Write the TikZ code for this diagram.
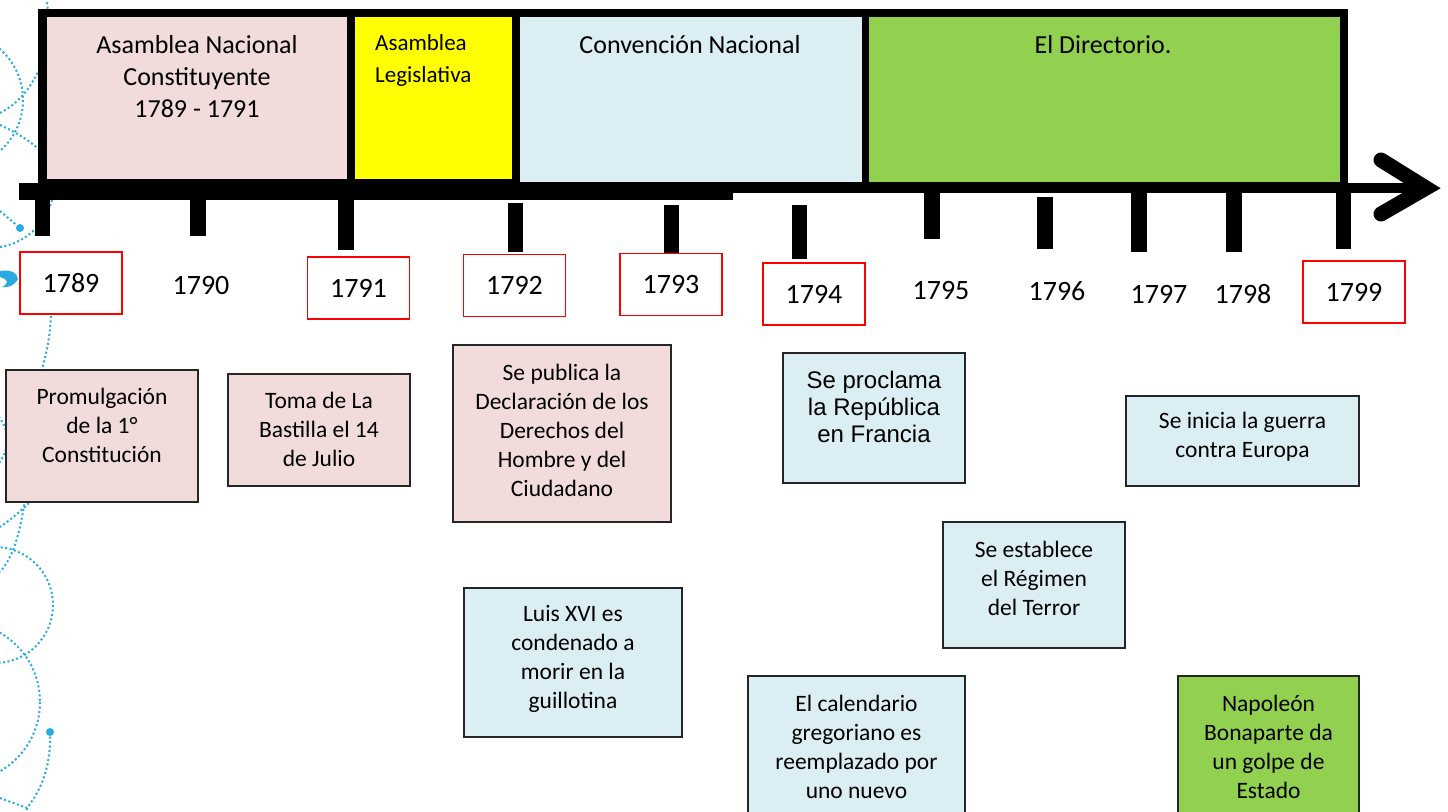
\documentclass[tikz,border=0pt]{standalone}
\usepackage{fontspec}
\setmainfont{Carlito}
\newfontfamily\arialf{Liberation Sans}
\definecolor{pinkc}{HTML}{F2DCDB}
\definecolor{bluec}{HTML}{DBEEF4}
\definecolor{yelc}{HTML}{FFFF00}
\definecolor{greenc}{HTML}{92D050}
\definecolor{decocyan}{RGB}{41,171,226}
\definecolor{boxline}{HTML}{262626}
\tikzset{
  evbox/.style={draw=boxline, line width=1.2pt, inner sep=0pt},
  yearbox/.style={draw=red, line width=1.3pt, fill=white, minimum width=102pt, minimum height=62pt, inner sep=0pt, font=\fontsize{28}{30}\selectfont},
  yeartxt/.style={inner sep=0pt, font=\fontsize{28}{30}\selectfont},
  evtxt/.style={align=center, inner sep=0pt, font=\fontsize{23.5}{29}\selectfont},
  headtxt/.style={align=center, inner sep=0pt, font=\fontsize{26}{32}\selectfont},
  deco/.style={draw=decocyan, line width=2pt, dash pattern=on 2pt off 2.5pt},
  tickbar/.style={fill=black}
}
\begin{document}
\begin{tikzpicture}[x=1pt,y=-1pt]
\useasboundingbox (0,0) rectangle (1448,811);
\clip (0,0) rectangle (1448,811);
% decoration at left edge
\draw[deco] (-45,100) circle[radius=68];
\draw[deco] (0,113) .. controls (35,95) and (55,50) .. (46,-5);
\draw[deco] (0,125) .. controls (15,132) and (30,140) .. (45,155);
\draw[deco] (0,211) -- (20,228);
\fill[decocyan] (20,228) circle[radius=4];
\draw[deco] (0,247) .. controls (25,243) and (45,225) .. (52,200);
\fill[decocyan] (0,271) .. controls (10,269) and (18,273) .. (18,279) .. controls (14,286) and (8,288) .. (2,287) .. controls (8,284) and (10,280) .. (0,277) -- cycle;
\draw[deco] (51,316) .. controls (50,335) and (47,355) .. (40,375);
\draw[deco] (-30,440) circle[radius=37];
\draw[deco] (32,500) .. controls (20,512) and (10,520) .. (0,527);
\draw[deco] (25,500) .. controls (20,530) and (15,555) .. (0,572);
\draw[deco] (-5,605) circle[radius=58];
\draw[deco] (-40,702) circle[radius=80];
\draw[deco] (50,732) .. controls (51,760) and (45,785) .. (27,808) -- (27,815);
\draw[deco] (0,798) -- (27,808);
\fill[decocyan] (50,732) circle[radius=4];
% frame and period boxes
\fill[black] (38,9) rectangle (1348,193);
\fill[pinkc] (47,17) rectangle (347,179);
\fill[yelc] (355,17) rectangle (512,179);
\fill[bluec] (520,17) rectangle (862,182);
\fill[greenc] (869,17) rectangle (1340,182);
\node[headtxt] (h1) at (197,77) {Asamblea Nacional\\Constituyente\\1789 - 1791};
\node[align=left, anchor=west, inner sep=0pt, font=\fontsize{23}{32}\selectfont] (h2) at (375,60) {Asamblea\\Legislativa};
\node[headtxt] (h3) at (690,45) {Convención Nacional};
\node[headtxt] (h4) at (1103,45) {El Directorio.};
% axis
\fill[black] (19,183) rectangle (733,200);
\fill[black] (733,183) rectangle (1427,193);
\draw[line width=15pt, line cap=round, line join=miter] (1381,160) -- (1426,188) -- (1381,214);
% ticks
\fill[tickbar] (35,200) rectangle (50,236);
\fill[tickbar] (190,200) rectangle (206,236);
\fill[tickbar] (338,200) rectangle (354,250);
\fill[tickbar] (508,203) rectangle (523,252);
\fill[tickbar] (664,205) rectangle (679,253);
\fill[tickbar] (792,205) rectangle (807,259);
\fill[tickbar] (924,193) rectangle (940,239);
\fill[tickbar] (1037,197) rectangle (1053,249);
\fill[tickbar] (1131,193) rectangle (1147,252);
\fill[tickbar] (1226,193) rectangle (1242,252);
\fill[tickbar] (1336,193) rectangle (1351,249);
% years
\node[yearbox] (y1789) at (71,283) {1789};
\node[yeartxt] (y1790) at (201,286) {1790};
\node[yearbox] (y1791) at (358.5,288) {1791};
\node[yearbox] (y1792) at (514.5,285.5) {1792};
\node[yearbox] (y1793) at (671,284.5) {1793};
\node[yearbox] (y1794) at (814,294) {1794};
\node[yeartxt] (y1795) at (941,291) {1795};
\node[yeartxt] (y1796) at (1057,291) {1796};
\node[yeartxt] (y1797) at (1159,294) {1797};
\node[yeartxt] (y1798) at (1243,294) {1798};
\node[yearbox] (y1799) at (1354,292) {1799};
% event boxes
\node[evbox, fill=pinkc, minimum width=192pt, minimum height=132pt] (bprom) at (102,436) {};
\node[evtxt] (tprom) at (102,425.5) {Promulgación\\de la 1°\\Constitución};
\node[evbox, fill=pinkc, minimum width=182pt, minimum height=112pt] (btoma) at (319,430) {};
\node[evtxt] (ttoma) at (319,429.5) {Toma de La\\Bastilla el 14\\de Julio};
\node[evbox, fill=pinkc, minimum width=218pt, minimum height=177pt] (bdecl) at (562,433.5) {};
\node[evtxt] (tdecl) at (562,430.5) {Se publica la\\Declaración de los\\Derechos del\\Hombre y del\\Ciudadano};
\node[evbox, fill=bluec, minimum width=218pt, minimum height=149pt] (bluis) at (573,662.5) {};
\node[evtxt] (tluis) at (573,658.5) {Luis XVI es\\condenado a\\morir en la\\guillotina};
\node[evbox, fill=bluec, minimum width=182pt, minimum height=130pt] (bprocl) at (874,418) {};
\node[align=center, inner sep=0pt, font=\arialf\fontsize{24}{27}\selectfont] (tprocl) at (874,407) {Se proclama\\la República\\en Francia};
\node[evbox, fill=bluec, minimum width=182pt, minimum height=126pt] (bterror) at (1034,585) {};
\node[evtxt] (tterror) at (1034,578) {Se establece\\el Régimen\\del Terror};
\node[evbox, fill=bluec, minimum width=217pt, minimum height=154pt] (bcal) at (856.5,753) {};
\node[evtxt] (tcal) at (856.5,746.5) {El calendario\\gregoriano es\\reemplazado por\\uno nuevo};
\node[evbox, fill=bluec, minimum width=233pt, minimum height=90pt] (bguerra) at (1242.5,441) {};
\node[evtxt] (tguerra) at (1242.5,436.5) {Se inicia la guerra\\contra Europa};
\node[evbox, fill=greenc, minimum width=181pt, minimum height=154pt] (bnapo) at (1268.5,753) {};
\node[evtxt] (tnapo) at (1268.5,746.5) {Napoleón\\Bonaparte da\\un golpe de\\Estado};
\end{tikzpicture}
\end{document}
